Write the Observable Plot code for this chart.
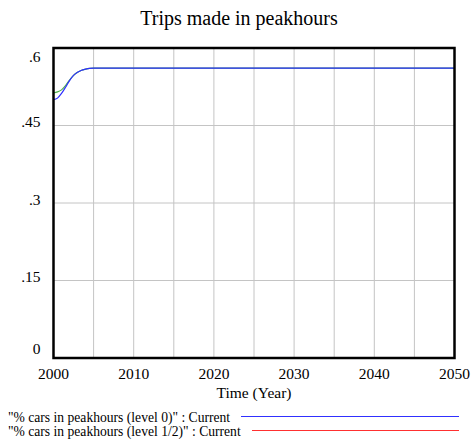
<!DOCTYPE html>
<html><head><meta charset="utf-8">
<script src="https://cdn.jsdelivr.net/npm/d3@7"></script>
<script src="https://cdn.jsdelivr.net/npm/@observablehq/plot@0.6"></script>
<style>
body{margin:0;background:#fff;font-family:"Liberation Serif","Times New Roman",serif;width:476px;color:#000}
#title{height:36px;line-height:36px;text-align:center;font-size:20px;padding-left:2px}
#chart svg, #chart svg text{font-family:"Liberation Serif","Times New Roman",serif !important;}
#legend svg{display:block}
</style></head><body>
<div id="title">Trips made in peakhours</div>
<div id="chart"></div>
<div id="legend"></div>
<script>
// Data
const years      = [2000, 2000.5, 2001, 2001.5, 2002, 2002.5, 2003, 2003.5, 2004, 2004.5, 2005, 2010, 2020, 2030, 2040, 2050];
const level0     = [0.500, 0.503, 0.512, 0.524, 0.537, 0.547, 0.553, 0.557, 0.559, 0.5605, 0.561, 0.561, 0.561, 0.561, 0.561, 0.561];
const levelHalf  = [0.513, 0.515, 0.519, 0.527, 0.538, 0.547, 0.553, 0.557, 0.559, 0.5605, 0.561, 0.561, 0.561, 0.561, 0.561, 0.561];
const seriesNames = ['"% cars in peakhours (level 0)" : Current', '"% cars in peakhours (level 1/2)" : Current'];
const lineColors  = ["#2f2fff", "#4caf4c"];
const legendColors = ["#3030ff", "#ff3030"];
const xTicks = [2000, 2010, 2020, 2030, 2040, 2050];
const xGrid  = [2005, 2010, 2015, 2020, 2025, 2030, 2035, 2040, 2045];
const yTicks = [0, 0.15, 0.3, 0.45, 0.6];
const yGrid  = [0.15, 0.3, 0.45];
const xLabel = "Time (Year)";

const d0 = years.map((t, i) => ({t, v: level0[i]}));
const d1 = years.map((t, i) => ({t, v: levelHalf[i]}));
const yfmt = d => d === 0 ? "0" : d3.format(".2~f")(d).replace(/^0/, "");
const serif = '"Liberation Serif","Times New Roman",serif';

const chart = Plot.plot({
  width: 476, height: 365,
  marginTop: 11.5, marginLeft: 53, marginRight: 22, marginBottom: 43.5,
  style: {fontFamily: serif, fontSize: "15px", color: "#000", background: "#fff"},
  x: {domain: [2000, 2050]},
  y: {domain: [0, 0.6]},
  marks: [
    Plot.gridX(xGrid, {stroke: "#c4c4c4", strokeOpacity: 1}),
    Plot.gridY(yGrid, {stroke: "#c4c4c4", strokeOpacity: 1}),
    Plot.axisX(xTicks, {tickSize: 0, tickPadding: 10, tickFormat: d => String(d), label: null, fontSize: 15.5, fontFamily: serif}),
    Plot.axisY([0.6], {tickSize: 0, tickPadding: 13, tickFormat: yfmt, label: null, dy: 9, fontSize: 15.5, fontFamily: serif}),
    Plot.axisY([0.15, 0.3, 0.45], {tickSize: 0, tickPadding: 13, tickFormat: yfmt, label: null, dy: -3, fontSize: 15.5, fontFamily: serif}),
    Plot.axisY([0], {tickSize: 0, tickPadding: 13, tickFormat: yfmt, label: null, dy: -8.5, fontSize: 15.5, fontFamily: serif}),
    Plot.text([xLabel], {frameAnchor: "bottom", dy: 35.5, lineAnchor: "middle", fontSize: 15.5, fontFamily: serif, text: d => d}),
    Plot.line(d1, {x: "t", y: "v", stroke: lineColors[1], strokeWidth: 1.2, curve: "monotone-x"}),
    Plot.line(d0, {x: "t", y: "v", stroke: lineColors[0], strokeWidth: 1.2, curve: "monotone-x"}),
    Plot.frame({stroke: "#000", strokeWidth: 2.5})
  ]
});
document.getElementById("chart").appendChild(chart);

// Legend below the chart
const lsvg = d3.select("#legend").append("svg").attr("width", 476).attr("height", 40);
seriesNames.forEach((name, i) => {
  const y = 16 + i * 14;
  const t = lsvg.append("text").attr("x", 8).attr("y", y).attr("dy", "0.35em")
    .attr("font-family", serif).attr("font-size", 13.6).attr("fill", "#000").text(name);
  const w = t.node().getComputedTextLength();
  lsvg.append("line").attr("x1", Math.round(8 + w + 11)).attr("x2", 459).attr("y1", y - 0.5).attr("y2", y - 0.5)
    .attr("stroke", legendColors[i]).attr("stroke-width", 1).attr("shape-rendering", "crispEdges");
});
</script>
</body></html>
